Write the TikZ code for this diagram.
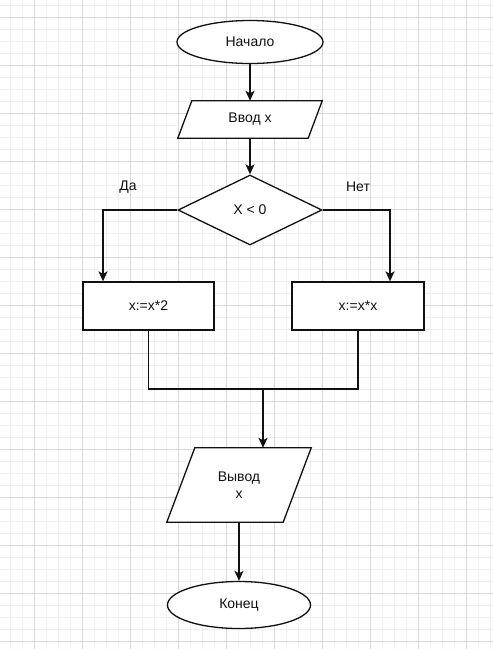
\documentclass[tikz,border=0pt]{standalone}
\usepackage{fontspec}
\setmainfont{Liberation Sans}
\usetikzlibrary{shapes.geometric,arrows.meta}
\definecolor{gridmajor}{HTML}{D9D9D9}
\definecolor{gridminor}{HTML}{F0F0F0}
\definecolor{ink}{HTML}{111111}
\begin{document}
\begin{tikzpicture}[x=1pt,y=-1pt,
  line/.style={draw=ink,line width=1.3pt},
  arr/.style={line,-{Stealth[length=10pt,width=9pt,inset=2.5pt]}},
  txt/.style={font=\fontsize{14}{17}\selectfont,text=ink},
  term/.style={ellipse,line,txt,inner sep=0pt,fill=white},
  proc/.style={rectangle,line,txt,inner sep=0pt,fill=white},
  dec/.style={diamond,line,txt,inner sep=0pt,fill=white},
  iobody/.style={rectangle,txt,inner sep=0pt,align=center},
  lbl/.style={txt,inner sep=0pt},
  minorgrid/.style={draw=gridminor,line width=0.8pt},
  majorgrid/.style={draw=gridmajor,line width=0.9pt}]
\useasboundingbox (0,0) rectangle (493,649);
\fill[white] (0,0) rectangle (493,649);
\foreach \x in {10,22,...,490} \draw[minorgrid] (\x,0) -- (\x,649);
\foreach \y in {5,17,...,649} \draw[minorgrid] (0,\y) -- (493,\y);
\foreach \x in {34,82,...,490} \draw[majorgrid] (\x,0) -- (\x,649);
\foreach \y in {17,65,...,649} \draw[majorgrid] (0,\y) -- (493,\y);

% start
\node[term,minimum width=146pt,minimum height=43pt] (start) at (250,42) {Начало};
% input
\node[iobody,minimum width=130pt,minimum height=37pt] (in) at (250,119.5) {};
\draw[line,fill=white] ([xshift=7pt]in.north west) -- ([xshift=7pt]in.north east)
  -- ([xshift=-7pt]in.south east) -- ([xshift=-7pt]in.south west) -- cycle;
\node[txt] (intext) at (in.center) {Ввод х};
% decision
\node[dec,minimum width=144pt,minimum height=70pt] (cond) at (250,210) {X < 0};
% labels
\node[lbl] (yes) at (128,187) {Да};
\node[lbl] (no) at (358,187) {Нет};
% process boxes
\node[proc,minimum width=131pt,minimum height=48pt] (b1) at (148.5,306) {x:=x*2};
\node[proc,minimum width=132pt,minimum height=48pt] (b2) at (358,306) {x:=x*x};
% output
\node[iobody,minimum width=116pt,minimum height=74pt] (out) at (239,485) {};
\draw[line,fill=white] ([xshift=14pt]out.north west) -- ([xshift=14pt]out.north east)
  -- ([xshift=-14pt]out.south east) -- ([xshift=-14pt]out.south west) -- cycle;
\node[txt,align=center] (outtext) at (out.center) {Вывод\\х};
% end
\node[term,minimum width=143pt,minimum height=47pt] (end) at (239,605) {Конец};

% connectors
\coordinate (j) at (263,389);
\draw[arr] (start) -- (in);
\draw[arr] (in) -- (cond);
\draw[arr] (cond.west) -| ([xshift=-45.5pt]b1.north);
\draw[arr] (cond.east) -| ([xshift=32pt]b2.north);
\draw[line] (b1.south) -- (b1.south |- j) -- (b2.south |- j) -- (b2.south);
\draw[arr] (j) -- (j |- out.north);
\draw[arr] (out.south) -- (out.south |- end.north);
\end{tikzpicture}
\end{document}
